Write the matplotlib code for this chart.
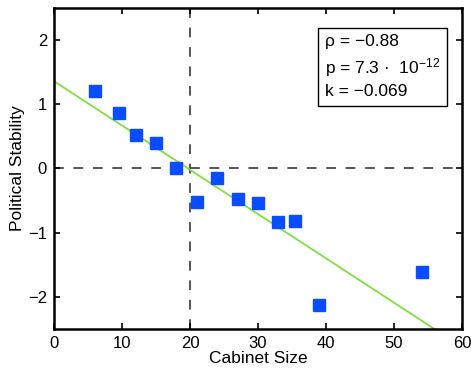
import numpy as np
import matplotlib.pyplot as plt

plt.rcParams['font.family'] = ['Liberation Sans', 'DejaVu Sans']
plt.rcParams['mathtext.fontset'] = 'custom'
plt.rcParams['mathtext.rm'] = 'Liberation Sans'
plt.rcParams['mathtext.it'] = 'Liberation Sans:italic'

# cabinet size vs political stability
cabinet_size = [6.0, 9.5, 12.0, 15.0, 17.9, 21.0, 24.0, 27.0, 30.0, 33.0, 35.5, 39.0, 54.1]
stability = [1.20, 0.86, 0.52, 0.39, 0.00, -0.52, -0.15, -0.48, -0.53, -0.84, -0.81, -2.12, -1.61]

# fitted line
intercept = 1.36
slope = -0.069
x_fit = [0, 60]

fig = plt.figure(figsize=(4.71, 3.70), dpi=100)
ax = fig.add_axes([0.1146, 0.1108, 0.8665, 0.8676])

ax.axvline(20, color="#555555", linestyle=(0, (5, 5)), linewidth=1.4, zorder=1)
ax.axhline(0, color="#555555", linestyle=(0, (5, 5)), linewidth=1.4, zorder=1)

y_fit = [intercept + slope * x for x in x_fit]
ax.plot(x_fit, y_fit, color="#80e040", linewidth=1.3, zorder=2)
ax.plot(cabinet_size, stability, linestyle="none", marker="s", markersize=8.5,
        color="#0a4cff", zorder=3)

ax.set_xlim(0, 60)
ax.set_ylim(-2.5, 2.5)
ax.set_xticks([0, 10, 20, 30, 40, 50, 60])
ax.set_yticks([-2, -1, 0, 1, 2])
ax.set_yticklabels(["\u22122", "\u22121", "0", "1", "2"])
ax.tick_params(direction="in", top=True, right=True, labelsize=12, length=4, width=1.2, pad=5)
for s in ax.spines.values():
    s.set_linewidth(1.8)

ax.set_xlabel("Cabinet Size", fontsize=12.5, labelpad=0)
ax.set_ylabel("Political Stability", fontsize=12.5, labelpad=2)

txt = "\u03c1 = \u22120.88\np = 7.3 \u00b7  10$^{\\mathrm{-12}}$\nk = \u22120.069"
ax.text(0.664, 0.918, txt, transform=ax.transAxes, fontsize=12.5, va="top", ha="left",
        linespacing=1.4,
        bbox=dict(boxstyle="square,pad=0.38", facecolor="white", edgecolor="black", linewidth=1))

fig.savefig("out.png", dpi=100)
